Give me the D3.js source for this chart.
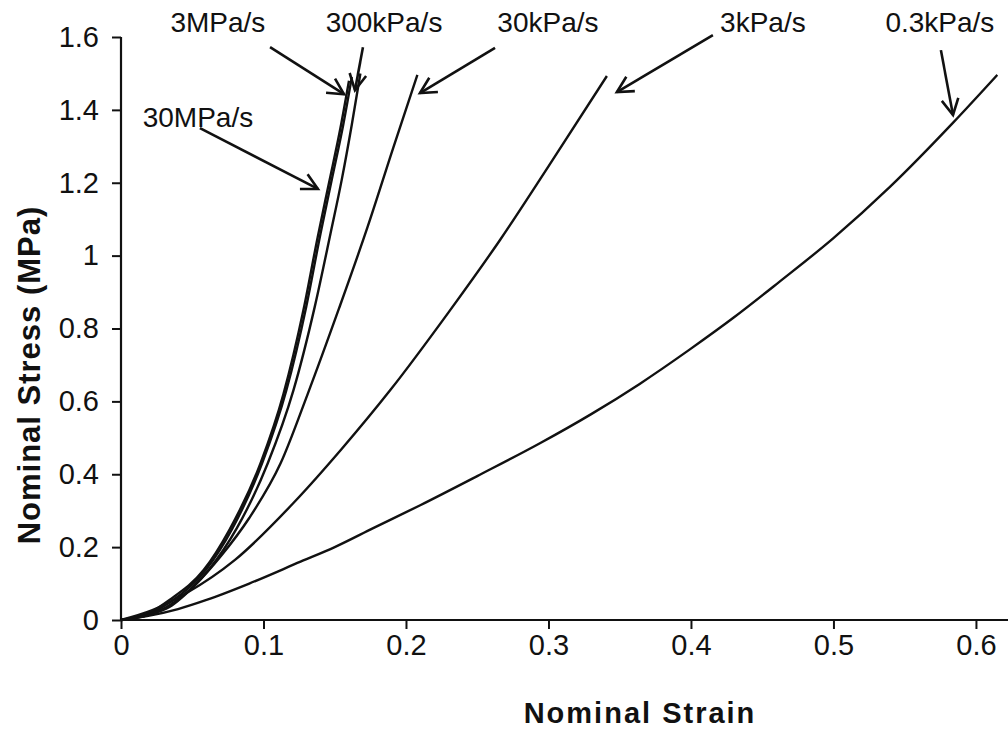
<!DOCTYPE html>
<html>
<head>
<meta charset="utf-8">
<script src="https://cdn.jsdelivr.net/npm/d3@7"></script>
<style>
  body { margin: 0; background: #fff; }
  text { font-family: "Liberation Sans", Arial, sans-serif; fill: #111; }
</style>
</head>
<body>
<div id="chart"></div>
<script>
// stress-strain curves: [strain, stress (MPa)]
var rate30MPa = [[0,0],[0.02,0.02],[0.034,0.055],[0.058,0.137],[0.076,0.247],[0.098,0.431],[0.114,0.62],[0.128,0.85],[0.138,1.05],[0.146,1.2],[0.154,1.35],[0.16,1.48]];
var rate3MPa = [[0,0],[0.02,0.018],[0.035,0.05],[0.06,0.14],[0.078,0.25],[0.099,0.43],[0.116,0.63],[0.13,0.86],[0.14,1.06],[0.148,1.21],[0.156,1.36],[0.162,1.49]];
var rate300kPa = [[0,0],[0.02,0.015],[0.036,0.045],[0.062,0.14],[0.081,0.25],[0.103,0.43],[0.121,0.63],[0.136,0.86],[0.147,1.06],[0.155,1.21],[0.162,1.36],[0.168,1.5]];
var rate30kPa = [[0,0],[0.02,0.015],[0.034,0.036],[0.053,0.1],[0.07,0.175],[0.09,0.28],[0.112,0.43],[0.131,0.62],[0.153,0.855],[0.173,1.078],[0.191,1.295],[0.208,1.496]];
var rate3kPa = [[0,0],[0.022,0.027],[0.046,0.074],[0.08,0.165],[0.121,0.321],[0.155,0.47],[0.189,0.631],[0.23,0.845],[0.266,1.043],[0.3,1.245],[0.341,1.493]];
var rate03kPa = [[0,0],[0.02,0.012],[0.04,0.03],[0.06,0.055],[0.09,0.1],[0.126,0.16],[0.15,0.2],[0.177,0.252],[0.21,0.315],[0.25,0.395],[0.294,0.485],[0.33,0.565],[0.364,0.648],[0.399,0.742],[0.43,0.83],[0.462,0.928],[0.5,1.048],[0.54,1.19],[0.584,1.365],[0.615,1.496]];

var curves = [rate30MPa, rate3MPa, rate300kPa, rate30kPa, rate3kPa, rate03kPa];

var xTicks = [0, 0.1, 0.2, 0.3, 0.4, 0.5, 0.6];
var yTicks = [0, 0.2, 0.4, 0.6, 0.8, 1, 1.2, 1.4, 1.6];

// labels with arrows: text position, arrow start, arrow tip (data units)
var labels = [
  {name: "3MPa/s",   text: [0.068, 1.641],  from: [0.1046, 1.572], to: [0.1565, 1.443]},
  {name: "30MPa/s",  text: [0.054, 1.378],  from: [0.0554, 1.350], to: [0.1382, 1.183]},
  {name: "300kPa/s", text: [0.1846, 1.641], from: [0.1698, 1.572], to: [0.1642, 1.454]},
  {name: "30kPa/s",  text: [0.2996, 1.641], from: [0.2625, 1.570], to: [0.2098, 1.446]},
  {name: "3kPa/s",   text: [0.4505, 1.641], from: [0.4154, 1.605], to: [0.348, 1.449]},
  {name: "0.3kPa/s", text: [0.5747, 1.641], from: [0.5754, 1.564], to: [0.5839, 1.386]}
];

var margin = {top: 37, right: 0, bottom: 111, left: 121},
    width = 1008 - margin.left - margin.right,
    height = 731 - margin.top - margin.bottom;

var svg = d3.select("#chart").append("svg")
    .attr("width", width + margin.left + margin.right)
    .attr("height", height + margin.top + margin.bottom)
  .append("g")
    .attr("transform", "translate(" + margin.left + "," + margin.top + ")");

var x = d3.scaleLinear().domain([0, 0.6225]).range([0, width]);
var y = d3.scaleLinear().domain([0, 1.6]).range([height, 0]);

// axes
var xAxis = svg.append("g")
    .attr("transform", "translate(0," + height + ")")
    .call(d3.axisBottom(x).tickValues(xTicks).tickSize(9).tickPadding(5)
      .tickFormat(function(d) { return d === 0 ? "0" : d3.format(".1f")(d); }));
var yAxis = svg.append("g")
    .call(d3.axisLeft(y).tickValues(yTicks).tickSize(9).tickPadding(13)
      .tickFormat(function(d) { return d === 0 || d === 1 ? String(d) : d3.format(".1f")(d); }));

[xAxis, yAxis].forEach(function(a) {
  a.select(".domain").attr("stroke", "#111").attr("stroke-width", 2.2);
  a.selectAll(".tick line").attr("stroke", "#111").attr("stroke-width", 2);
  a.selectAll(".tick text").style("font-size", "29px").attr("fill", "#111");
});
xAxis.select(".domain").attr("d", "M0,0H" + width);
yAxis.select(".domain").attr("d", "M0,0V" + height);

// curves
var line = d3.line()
    .x(function(d) { return x(d[0]); })
    .y(function(d) { return y(d[1]); })
    .curve(d3.curveMonotoneX);

svg.selectAll(".curve")
  .data(curves)
  .enter().append("path")
    .attr("class", "curve")
    .attr("d", line)
    .attr("fill", "none")
    .attr("stroke", "#111")
    .attr("stroke-width", 2.4);

// annotation arrows
labels.forEach(function(l) {
  var x1 = x(l.from[0]), y1 = y(l.from[1]), x2 = x(l.to[0]), y2 = y(l.to[1]);
  var ang = Math.atan2(y2 - y1, x2 - x1), head = 18, spread = Math.PI / 6.5;
  svg.append("line")
    .attr("x1", x1).attr("y1", y1).attr("x2", x2).attr("y2", y2)
    .attr("stroke", "#111").attr("stroke-width", 2.6);
  svg.append("path")
    .attr("d", "M" + (x2 - head * Math.cos(ang - spread)) + "," + (y2 - head * Math.sin(ang - spread)) +
               "L" + x2 + "," + y2 +
               "L" + (x2 - head * Math.cos(ang + spread)) + "," + (y2 - head * Math.sin(ang + spread)))
    .attr("fill", "none").attr("stroke", "#111").attr("stroke-width", 2.6);
  svg.append("text")
    .attr("x", x(l.text[0])).attr("y", y(l.text[1]))
    .attr("text-anchor", "middle")
    .attr("dominant-baseline", "central")
    .style("font-size", "28px")
    .text(l.name);
});

// axis titles
svg.append("text")
  .attr("x", 640 - margin.left).attr("y", height + 93)
  .attr("text-anchor", "middle")
  .attr("dominant-baseline", "central")
  .style("font-size", "29px").style("font-weight", "bold").style("letter-spacing", "2px")
  .text("Nominal Strain");

svg.append("text")
  .attr("transform", "translate(" + (29 - margin.left) + "," + (375 - margin.top) + ") rotate(-90)")
  .attr("text-anchor", "middle")
  .attr("dominant-baseline", "central")
  .style("font-size", "31px").style("font-weight", "bold").style("letter-spacing", "1px")
  .text("Nominal Stress (MPa)");
</script>
</body>
</html>
